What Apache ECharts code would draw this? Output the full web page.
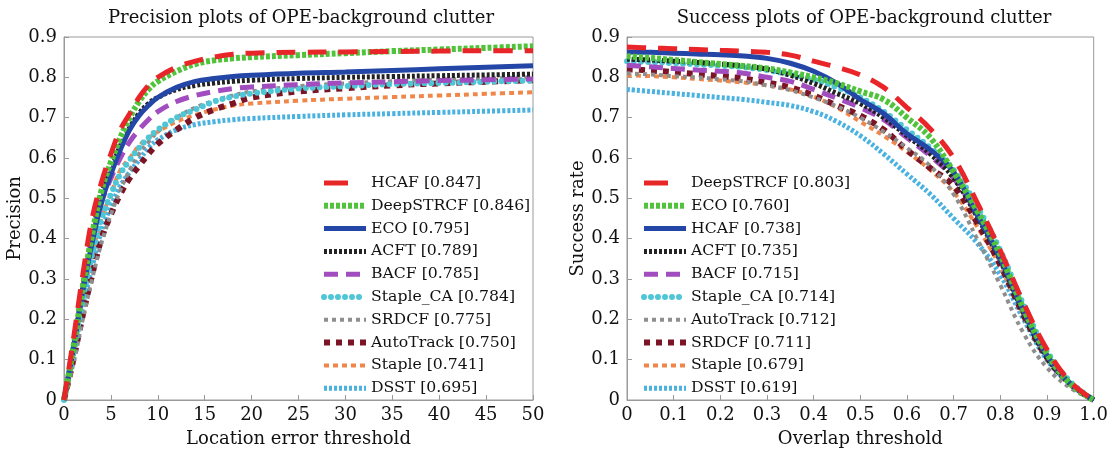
<!DOCTYPE html>
<html><head><meta charset="utf-8">
<script src="https://cdn.jsdelivr.net/npm/echarts@6/dist/echarts.min.js"></script>
<style>html,body{margin:0;padding:0;background:#fff}#c{width:1111px;height:455px}</style>
</head><body><div id="c"></div>
<script>
// ---- data ----
const precisionX = [0,1,2,3,4,5,6,7,8,9,10,12,14,16,18,20,25,30,35,40,45,50];
const precisionNames = ['HCAF [0.847]','DeepSTRCF [0.846]','ECO [0.795]','ACFT [0.789]','BACF [0.785]','Staple_CA [0.784]','SRDCF [0.775]','AutoTrack [0.750]','Staple [0.741]','DSST [0.695]'];
const precHCAF      = [0,0.15,0.31,0.45,0.54,0.61,0.67,0.71,0.75,0.78,0.80,0.825,0.84,0.85,0.857,0.86,0.862,0.863,0.864,0.865,0.866,0.866];
const precDeepSTRCF = [0,0.13,0.28,0.41,0.52,0.59,0.65,0.70,0.74,0.77,0.79,0.815,0.833,0.842,0.847,0.85,0.855,0.86,0.865,0.869,0.873,0.877];
const precECO       = [0,0.13,0.27,0.39,0.49,0.56,0.62,0.67,0.705,0.73,0.75,0.775,0.79,0.797,0.802,0.805,0.81,0.813,0.817,0.821,0.825,0.829];
const precACFT      = [0,0.13,0.28,0.41,0.51,0.57,0.63,0.675,0.71,0.735,0.75,0.77,0.78,0.786,0.79,0.793,0.797,0.80,0.802,0.804,0.806,0.808];
const precBACF      = [0,0.13,0.28,0.40,0.49,0.55,0.60,0.64,0.67,0.695,0.715,0.74,0.755,0.765,0.772,0.776,0.782,0.786,0.789,0.792,0.794,0.796];
const precStapleCA  = [0,0.12,0.25,0.36,0.45,0.51,0.56,0.595,0.625,0.65,0.67,0.70,0.72,0.74,0.752,0.76,0.772,0.778,0.783,0.786,0.789,0.792];
const precSRDCF     = [0,0.09,0.20,0.30,0.39,0.46,0.52,0.57,0.61,0.64,0.665,0.70,0.725,0.742,0.755,0.765,0.778,0.785,0.79,0.794,0.797,0.80];
const precAutoTrack = [0,0.10,0.21,0.31,0.40,0.46,0.51,0.55,0.58,0.61,0.635,0.67,0.70,0.72,0.735,0.75,0.765,0.773,0.78,0.785,0.789,0.793];
const precStaple    = [0,0.12,0.25,0.36,0.45,0.51,0.57,0.60,0.63,0.65,0.665,0.69,0.707,0.72,0.73,0.735,0.742,0.747,0.751,0.755,0.759,0.763];
const precDSST      = [0,0.11,0.23,0.33,0.42,0.48,0.53,0.565,0.595,0.625,0.645,0.67,0.683,0.69,0.695,0.698,0.703,0.707,0.71,0.713,0.716,0.719];

const successX = [0,0.05,0.1,0.15,0.2,0.25,0.3,0.35,0.4,0.45,0.5,0.55,0.6,0.65,0.7,0.75,0.8,0.85,0.9,0.95,1.0];
const successNames = ['DeepSTRCF [0.803]','ECO [0.760]','HCAF [0.738]','ACFT [0.735]','BACF [0.715]','Staple_CA [0.714]','AutoTrack [0.712]','SRDCF [0.711]','Staple [0.679]','DSST [0.619]'];
const succDeepSTRCF = [0.875,0.873,0.871,0.869,0.867,0.865,0.862,0.855,0.84,0.825,0.806,0.775,0.725,0.672,0.60,0.49,0.37,0.24,0.125,0.045,0];
const succECO       = [0.852,0.848,0.843,0.838,0.833,0.828,0.822,0.812,0.80,0.785,0.765,0.745,0.70,0.65,0.565,0.47,0.36,0.225,0.115,0.04,0];
const succHCAF      = [0.863,0.862,0.86,0.858,0.856,0.853,0.847,0.835,0.815,0.785,0.745,0.71,0.66,0.62,0.565,0.46,0.35,0.22,0.11,0.04,0];
const succACFT      = [0.845,0.843,0.84,0.837,0.833,0.828,0.82,0.805,0.785,0.76,0.735,0.70,0.655,0.61,0.55,0.455,0.345,0.215,0.105,0.04,0];
const succBACF      = [0.83,0.826,0.822,0.818,0.815,0.81,0.80,0.79,0.77,0.748,0.725,0.695,0.65,0.605,0.55,0.46,0.35,0.22,0.11,0.04,0];
const succStapleCA  = [0.84,0.838,0.835,0.832,0.829,0.825,0.818,0.807,0.795,0.775,0.75,0.715,0.67,0.625,0.57,0.48,0.37,0.235,0.12,0.045,0];
const succAutoTrack = [0.81,0.807,0.803,0.80,0.795,0.79,0.78,0.768,0.75,0.728,0.70,0.665,0.625,0.58,0.51,0.40,0.285,0.165,0.08,0.03,0];
const succSRDCF     = [0.82,0.817,0.813,0.808,0.803,0.797,0.787,0.775,0.755,0.73,0.705,0.67,0.62,0.575,0.53,0.44,0.335,0.21,0.105,0.04,0];
const succStaple    = [0.805,0.803,0.80,0.796,0.792,0.787,0.78,0.77,0.752,0.725,0.69,0.655,0.615,0.57,0.515,0.43,0.33,0.21,0.105,0.04,0];
const succDSST      = [0.77,0.765,0.76,0.755,0.75,0.745,0.738,0.73,0.715,0.69,0.655,0.61,0.56,0.51,0.45,0.39,0.31,0.20,0.10,0.04,0];

const yTicks = ['0','0.1','0.2','0.3','0.4','0.5','0.6','0.7','0.8','0.9'];

// ---- styles ----
const ST = {
  redDash:   {color:'#e8262a', width:5, type:[19,12], cap:'butt'},
  green:     {color:'#4fc43a', width:6, type:[4,2], cap:'butt'},
  blue:      {color:'#2446a6', width:5, type:'solid'},
  black:     {color:'#222222', width:5, type:[3,2], cap:'butt'},
  purple:    {color:'#a24dbf', width:5, type:[14,8], cap:'butt'},
  cyan:      {color:'#4ec6d6', width:6, type:[0,7], cap:'round'},
  gray:      {color:'#8e8e8e', width:4, type:[4,4], cap:'butt'},
  darkred:   {color:'#7b1424', width:6, type:[6,6], cap:'butt'},
  orange:    {color:'#f0874a', width:4, type:[5,4], cap:'butt'},
  lightblue: {color:'#4ab2e0', width:5, type:[3,2], cap:'butt'}
};
const precStyles = [ST.redDash, ST.green, ST.blue, ST.black, ST.purple, ST.cyan, ST.gray, ST.darkred, ST.orange, ST.lightblue];
const succStyles = [ST.redDash, ST.green, ST.blue, ST.black, ST.purple, ST.cyan, ST.gray, ST.darkred, ST.orange, ST.lightblue];
const precData = [precHCAF, precDeepSTRCF, precECO, precACFT, precBACF, precStapleCA, precSRDCF, precAutoTrack, precStaple, precDSST];
const succData = [succDeepSTRCF, succECO, succHCAF, succACFT, succBACF, succStapleCA, succAutoTrack, succSRDCF, succStaple, succDSST];

const FONT = 'DejaVu Serif';
const series = [];
precData.forEach((arr, i) => {
  series.push({
    name: precisionNames[i], type:'line', xAxisIndex:0, yAxisIndex:0,
    data: precisionX.map((x, k) => [x, arr[k]]),
    smooth: 0.4, symbol:'none', showSymbol:false, z: 20 - i,
    lineStyle: Object.assign({}, precStyles[i]), itemStyle:{color: precStyles[i].color},
    animation:false
  });
});
succData.forEach((arr, i) => {
  series.push({
    name: successNames[i], type:'line', xAxisIndex:1, yAxisIndex:1,
    data: successX.map((x, k) => [x, arr[k]]),
    smooth: 0.4, symbol:'none', showSymbol:false, z: 20 - i,
    lineStyle: Object.assign({}, succStyles[i]), itemStyle:{color: succStyles[i].color},
    animation:false
  });
});

const axisCommon = {
  axisLine:{show:true, onZero:false, lineStyle:{color:'#9a9a9a', width:1}},
  axisTick:{show:true, inside:true, length:5, lineStyle:{color:'#9a9a9a'}},
  splitLine:{show:false},
  axisLabel:{color:'#111', fontFamily:FONT, fontSize:18, margin:6},
  nameTextStyle:{color:'#111', fontFamily:FONT, fontSize:18}
};
function ax(extra){ return Object.assign({}, JSON.parse(JSON.stringify(axisCommon)), extra); }

const legendCommon = {
  orient:'vertical', itemWidth:42, itemHeight:14, itemGap:6.8,
  textStyle:{color:'#111', fontFamily:FONT, fontSize:15.7},
  itemStyle:{opacity:0},
  lineStyle:{width:'inherit'},
  backgroundColor:'rgba(255,255,255,0)'
};
function legendItems(names, styles){
  return names.map((n, i) => {
    const s = styles[i];
    if (s === ST.redDash) return {name:n, lineStyle:{width:5, type:[24,40], color:s.color}};
    return {name:n, lineStyle:{width:s.width}};
  });
}

const option = {
  animation:false,
  backgroundColor:'#fff',
  title:[
    {text:'Precision plots of OPE-background clutter', left:296, top:4, textAlign:'center',
     textStyle:{fontFamily:FONT, fontSize:18, fontWeight:'normal', color:'#111'}},
    {text:'Success plots of OPE-background clutter', left:859, top:4, textAlign:'center',
     textStyle:{fontFamily:FONT, fontSize:18, fontWeight:'normal', color:'#111'}}
  ],
  grid:[
    {left:64, right:578, top:37, bottom:55, show:true, borderColor:'#9a9a9a', borderWidth:1},
    {left:627, right:16, top:37, bottom:55, show:true, borderColor:'#9a9a9a', borderWidth:1}
  ],
  xAxis:[
    ax({type:'value', gridIndex:0, min:0, max:50, interval:5, name:'Location error threshold',
        nameLocation:'middle', nameGap:30}),
    ax({type:'value', gridIndex:1, min:0, max:1, interval:0.1, name:'Overlap threshold',
        nameLocation:'middle', nameGap:30,
        axisLabel:{color:'#111', fontFamily:FONT, fontSize:18, margin:6,
          formatter: v => { const r = Math.round(v*10)/10; return r === 1 ? '1.0' : String(r); }}})
  ],
  yAxis:[
    ax({type:'value', gridIndex:0, min:0, max:0.9, interval:0.1, name:'Precision',
        nameLocation:'middle', nameGap:40,
        axisLabel:{color:'#111', fontFamily:FONT, fontSize:18, margin:7,
          formatter: v => yTicks[Math.round(v*10)]}}),
    ax({type:'value', gridIndex:1, min:0, max:0.9, interval:0.1, name:'Success rate',
        nameLocation:'middle', nameGap:40,
        axisLabel:{color:'#111', fontFamily:FONT, fontSize:18, margin:7,
          formatter: v => yTicks[Math.round(v*10)]}})
  ],
  legend:[
    Object.assign({}, legendCommon, {data:legendItems(precisionNames, precStyles), left:316, top:170}),
    Object.assign({}, legendCommon, {data:legendItems(successNames, succStyles), left:636, top:170})
  ],
  series: series
};

const chart = echarts.init(document.getElementById('c'), null, {renderer:'canvas'});
chart.setOption(option);
</script>
</body></html>
